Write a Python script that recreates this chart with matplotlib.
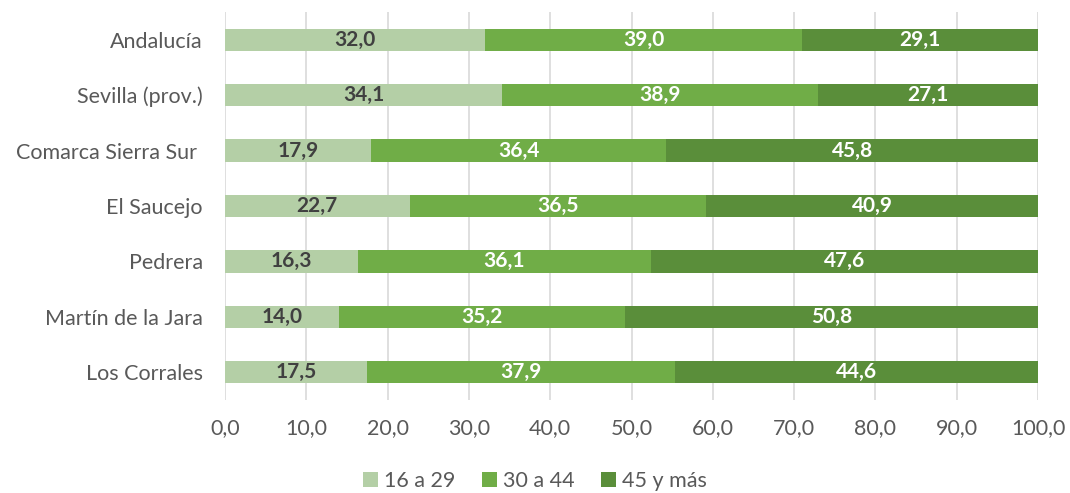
import matplotlib
matplotlib.use("Agg")
import matplotlib.pyplot as plt
import numpy as np

# --- Datos ---
categorias = ["Andalucía", "Sevilla (prov.)", "Comarca Sierra Sur ", "El Saucejo",
              "Pedrera", "Martín de la Jara", "Los Corrales"]
edad_16_29 = [32.0, 34.1, 17.9, 22.7, 16.3, 14.0, 17.5]
edad_30_44 = [39.0, 38.9, 36.4, 36.5, 36.1, 35.2, 37.9]
edad_45_mas = [29.1, 27.1, 45.8, 40.9, 47.6, 50.8, 44.6]
series = ["16 a 29", "30 a 44", "45 y más"]
colores = ["#B4CFA6", "#70AD47", "#5A8E3A"]
color_texto = ["#404040", "white", "white"]

plt.rcParams['font.family'] = ['Lato', 'DejaVu Sans']

fig = plt.figure(figsize=(10.7, 4.93), dpi=100)
ax = fig.add_axes([225 / 1070, 1 - 400 / 493, 813 / 1070, 388 / 493])

y = np.arange(len(categorias))
izq = np.zeros(len(categorias))
for nombre, vals, col, ctxt in zip(series, [edad_16_29, edad_30_44, edad_45_mas], colores, color_texto):
    barras = ax.barh(y, vals, left=izq, height=0.4, color=col, label=nombre, zorder=3)
    ax.bar_label(barras, labels=[f"{v:.1f}".replace('.', ',') for v in vals],
                 label_type='center', color=ctxt, fontsize=15, fontweight='bold')
    izq += np.array(vals)

ax.set_ylim(len(categorias) - 0.5, -0.5)
ax.set_xlim(0, 100)
ax.set_yticks(y)
ax.set_yticklabels(categorias, fontsize=15.5, color="#595959")
xt = np.arange(0, 101, 10)
ax.set_xticks(xt)
ax.set_xticklabels([f"{v:.1f}".replace('.', ',') for v in xt], fontsize=15.5, color="#595959")
ax.tick_params(axis='y', length=0, pad=16)
ax.tick_params(axis='x', length=0, pad=13)
ax.grid(axis='x', color="#D9D9D9", linewidth=1.2, zorder=0)
for s in ax.spines.values():
    s.set_visible(False)

fig.legend(loc='lower center', bbox_to_anchor=(0.5, 0.004), ncol=3, frameon=False,
           fontsize=15.5, handlelength=0.7, handleheight=0.7, handletextpad=0.3,
           columnspacing=1.2, labelcolor="#595959", borderpad=0, borderaxespad=0)

fig.savefig("out.png", dpi=100)
